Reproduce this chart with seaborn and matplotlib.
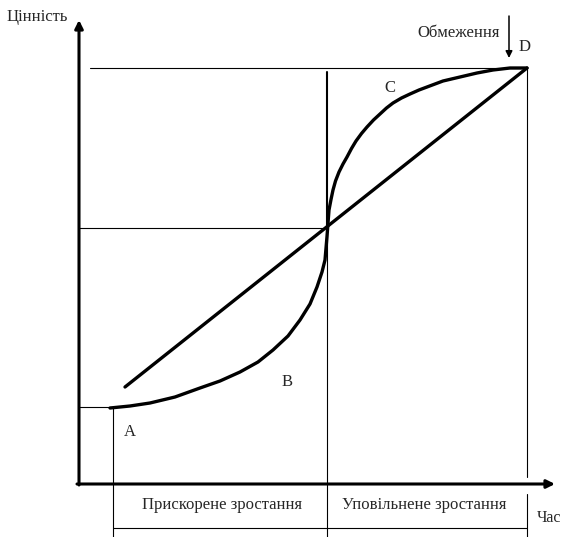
import numpy as np
import pandas as pd
import matplotlib
matplotlib.use("Agg")
import matplotlib.pyplot as plt
import seaborn as sns

# S-curve of value over time (units: 1 = 50 px of the original)
curve_t = [0.62, 1.02, 1.42, 1.92, 2.42, 2.82, 3.22, 3.58, 3.88, 4.18, 4.42, 4.62,
           4.76, 4.86, 4.92, 4.96, 4.96, 5.00, 5.04, 5.08, 5.13, 5.20, 5.28, 5.36,
           5.45, 5.54, 5.65, 5.76, 5.89, 6.02, 6.15, 6.28, 6.45, 6.62, 6.80, 6.96,
           7.28, 7.62, 7.96, 8.28, 8.62, 8.96]
curve_v = [1.52, 1.56, 1.62, 1.74, 1.92, 2.06, 2.24, 2.44, 2.68, 2.96, 3.28, 3.60,
           3.94, 4.24, 4.48, 4.78, 5.12, 5.48, 5.69, 5.88, 6.06, 6.24, 6.40, 6.54,
           6.71, 6.86, 7.01, 7.14, 7.28, 7.40, 7.52, 7.62, 7.72, 7.80, 7.88, 7.94,
           8.06, 8.14, 8.22, 8.28, 8.32, 8.32]

# straight (linear) growth line
line_t = [0.92, 8.96]
line_v = [1.94, 8.32]

# key points A, middle, D
key_t = [0.68, 4.96, 8.96]
key_v = [1.54, 5.12, 8.32]

point_labels = ["A", "B", "C", "D"]
point_t = [1.02, 4.16, 6.22, 8.92]
point_v = [1.04, 2.04, 7.92, 8.74]

phase_labels = ["Прискорене зростання", "Уповільнене зростання"]
y_label = "Цінність"
x_label = "Час"
limit_label = "Обмеження"

sns.set_style("white")
plt.rcParams["font.family"] = ["Liberation Serif", "DejaVu Serif"]

fig = plt.figure(figsize=(5.63, 5.37), dpi=100)
ax = fig.add_axes([0, 0, 1, 1])
ax.set_xlim(-1.58, 9.68)
ax.set_ylim(-1.06, 9.68)
ax.axis("off")

x_bottom = -1.06
table_v = -0.88

# thin guide lines
thin = dict(color="black", lw=0.8)
ax.plot([0.22, key_t[2]], [key_v[2], key_v[2]], **thin)
ax.plot([0, key_t[1]], [key_v[1], key_v[1]], **thin)
ax.plot([0, key_t[0]], [key_v[0], key_v[0]], **thin)
ax.plot([key_t[0], key_t[0]], [key_v[0], x_bottom], **thin)
ax.plot([key_t[1], key_t[1]], [key_v[1], x_bottom], **thin)
ax.plot([key_t[1], key_t[1]], [8.24, key_v[1]], color="black", lw=1.5)
ax.plot([key_t[2], key_t[2]], [key_v[2], 0.14], **thin)
ax.plot([key_t[2], key_t[2]], [-0.2, x_bottom], **thin)
ax.plot([key_t[0], key_t[2]], [table_v, table_v], **thin)

# curves
curve = pd.DataFrame({"t": curve_t, "v": curve_v})
sns.lineplot(data=curve, x="t", y="v", sort=False, color="black", lw=2.4, ax=ax)
straight = pd.DataFrame({"t": line_t, "v": line_v})
sns.lineplot(data=straight, x="t", y="v", sort=False, color="black", lw=2.4, ax=ax)

# axes arrows
arrow = dict(arrowstyle="-|>", color="black", lw=2.2, mutation_scale=12, shrinkA=0, shrinkB=0)
ax.annotate("", xy=(0, 9.28), xytext=(0, -0.02), arrowprops=arrow)
ax.annotate("", xy=(9.52, 0), xytext=(-0.04, 0), arrowprops=arrow)

# limit arrow
ax.annotate("", xy=(8.6, 8.52), xytext=(8.6, 9.36),
            arrowprops=dict(arrowstyle="-|>", color="black", lw=1.1, mutation_scale=10,
                            shrinkA=0, shrinkB=0))

for lab, t, v in zip(point_labels, point_t, point_v):
    ax.text(t, v, lab, ha="center", va="center", fontsize=12)

ax.text(8.42, 9.02, limit_label, ha="right", va="center", fontsize=12)
ax.text(-0.84, 9.34, y_label, ha="center", va="center", fontsize=12)
ax.text(9.16, -0.68, x_label, ha="left", va="center", fontsize=11.5)
ax.text(2.86, -0.42, phase_labels[0], ha="center", va="center", fontsize=12)
ax.text(6.9, -0.42, phase_labels[1], ha="center", va="center", fontsize=12)

fig.savefig("out.png", dpi=100)
